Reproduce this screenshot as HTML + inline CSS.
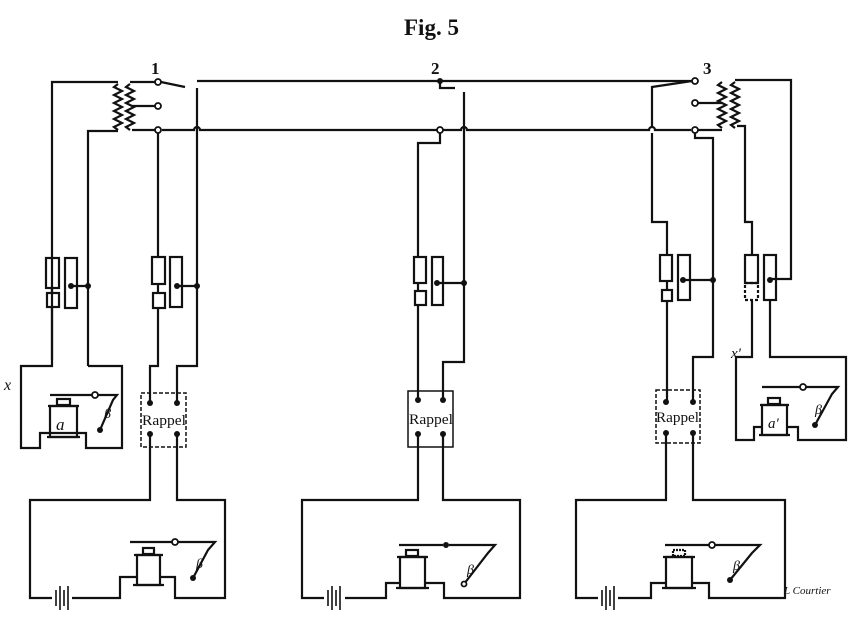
<!DOCTYPE html>
<html><head><meta charset="utf-8"><style>
html,body{margin:0;padding:0;background:#fff;}
svg{display:block}
text{font-family:"Liberation Serif",serif;fill:#111}
</style></head><body>
<svg width="855" height="620" viewBox="0 0 855 620" xmlns="http://www.w3.org/2000/svg">
<text x="404" y="35" font-size="23" font-weight="bold">Fig. 5</text>
<text x="151" y="74" font-size="17" font-weight="bold">1</text>
<text x="431" y="74" font-size="17" font-weight="bold">2</text>
<text x="703" y="74" font-size="17" font-weight="bold">3</text>
<text x="4" y="390" font-size="16" font-style="italic">x</text>
<text x="731" y="358" font-size="15" font-style="italic">x'</text>
<text x="784" y="594" font-size="11" font-style="italic">L Courtier</text>

<g fill="none" stroke="#111" stroke-width="2.2">
<path d="M197 81 H691"/>
<path d="M162 130 H194 a3 3 0 0 1 6 0 H461 a3 3 0 0 1 6 0 H649 a3 3 0 0 1 6 0 H691"/>

<!-- Station 1 top -->
<path d="M52 360 V82 H118"/>
<path d="M88 366 V131 H118"/>
<path d="M118 84 l-4 3 l8 4 l-8 4 l8 4 l-8 4 l8 4 l-8 4 l8 4 l-8 4 l8 4 l-8 4 l4 3"/>
<path d="M130 84 l-4 3 l8 4 l-8 4 l8 4 l-8 4 l8 4 l-8 4 l8 4 l-8 4 l8 4 l-8 4 l4 3"/>
<path d="M130 82 H155 M161 82 L185 87"/>
<path d="M132 106 H155"/>
<path d="M132 130 H155"/>
<path d="M158 133 V258"/>
<path d="M197 88 V366 H177 V403"/>
<rect x="46" y="258" width="13" height="30"/><rect x="47" y="293" width="12" height="14"/>
<path d="M52 288 V293 M52 307 V360"/>
<rect x="65" y="258" width="12" height="50"/>
<path d="M71 286 H88"/>
<rect x="152" y="257" width="13" height="27"/><rect x="153" y="293" width="12" height="15"/>
<path d="M158 284 V293 M158 308 V366 H150 V403"/>
<rect x="170" y="257" width="12" height="50"/>
<path d="M177 286 H197"/>
<path d="M52 360 V366 H21 V448 H40 V433 H86 V448 H122 V366 H88"/>
<rect x="50" y="406" width="27" height="31"/>
<path d="M47 437 H80 M48 406 H79"/>
<rect x="57" y="399" width="13" height="6"/>
<path d="M50 395 H92 M98 395 H117 L113 400 L100 430"/>
<rect x="141" y="393" width="45" height="54" stroke-dasharray="4 2" stroke-width="1.5"/>
<path d="M150 434 V500 H30 V598 H52 M72 598 H120 V577 H137 M160 577 H175 V598 H225 V500 H177 V434"/>
<path d="M56 590 V606 M60 586 V610 M64 590 V606 M68 586 V610" stroke-width="1.6"/>
<rect x="137" y="555" width="23" height="30"/>
<path d="M133 585 H164 M134 555 H163"/>
<rect x="143" y="548" width="11" height="6"/>
<path d="M130 542 H172 M178 542 H215 L208 550 L193 578"/>

<!-- Station 2 -->
<path d="M440 81 V88 H455 M464 92 V362 H443 V400"/>
<path d="M440 133 V143 H418 V257"/>
<rect x="414" y="257" width="12" height="26"/><rect x="415" y="291" width="11" height="14"/>
<path d="M418 283 V291 M418 305 V400"/>
<rect x="432" y="257" width="11" height="48"/>
<path d="M437 283 H464"/>
<rect x="408" y="391" width="45" height="56" stroke-width="1.5"/>
<path d="M418 434 V500 H302 V598 H324 M345 598 H386 V583 H400 M425 583 H444 V598 H520 V500 H443 V434"/>
<path d="M328 590 V606 M332 586 V610 M336 590 V606 M340 586 V610" stroke-width="1.6"/>
<rect x="400" y="557" width="25" height="31"/>
<path d="M396 588 H429 M397 557 H428"/>
<rect x="406" y="550" width="12" height="6"/>
<path d="M399 545 H443 M449 545 H495 L488 553 L464 584"/>

<!-- Station 3 -->
<path d="M692 81 L652 87 V127 M652 133 V222 H667 V255"/>
<path d="M698 103 H722"/>
<path d="M698 130 H722"/>
<path d="M695 133 V138 H713 V357 H693 V402"/>
<path d="M722 82 l-4 3 l8 4 l-8 4 l8 4 l-8 4 l8 4 l-8 4 l8 4 l-8 4 l8 4 l-8 4 l4 3"/>
<path d="M735 82 l-4 3 l8 4 l-8 4 l8 4 l-8 4 l8 4 l-8 4 l8 4 l-8 4 l8 4 l-8 4 l4 3"/>
<path d="M735 80 H791 V279 H770"/>
<path d="M737 126 H745 V222 H752 V255"/>
<rect x="660" y="255" width="12" height="26"/><rect x="662" y="290" width="10" height="11"/>
<path d="M667 281 V290 M667 301 V402"/>
<rect x="678" y="255" width="12" height="45"/>
<path d="M683 280 H713"/>
<rect x="745" y="255" width="13" height="28"/>
<rect x="745" y="283" width="13" height="17" stroke-dasharray="3 2"/>
<rect x="764" y="255" width="12" height="45"/>
<path d="M752 300 V357 H736 V440 H754 V427 H762 M787 427 H798 V440 H846 V357 H770 V300"/>
<rect x="762" y="405" width="25" height="30"/>
<path d="M759 435 H790 M760 405 H789"/>
<rect x="768" y="398" width="12" height="6"/>
<path d="M762 387 H800 M806 387 H838 L832 394 L815 425"/>
<rect x="656" y="390" width="44" height="53" stroke-dasharray="4 2" stroke-width="1.5"/>
<path d="M666 433 V500 H576 V598 H598 M618 598 H651 V583 H666 M692 583 H709 V598 H785 V500 H693 V433"/>
<path d="M602 590 V606 M606 586 V610 M610 590 V606 M614 586 V610" stroke-width="1.6"/>
<rect x="666" y="557" width="26" height="31"/>
<path d="M662 588 H696 M663 557 H695"/>
<rect x="673" y="550" width="12" height="6" stroke-dasharray="2 1"/>
<path d="M665 545 H709 M715 545 H760 L752 553 L730 580"/>
</g>

<g fill="#fff" stroke="#111" stroke-width="1.8">
<circle cx="158" cy="82" r="3"/><circle cx="158" cy="106" r="3"/><circle cx="158" cy="130" r="3"/>
<circle cx="440" cy="130" r="3"/>
<circle cx="695" cy="81" r="3"/><circle cx="695" cy="103" r="3"/><circle cx="695" cy="130" r="3"/>
<circle cx="95" cy="395" r="3"/><circle cx="175" cy="542" r="3"/><circle cx="712" cy="545" r="3"/>
<circle cx="803" cy="387" r="3"/><circle cx="464" cy="584" r="2.5"/>
</g>
<g fill="#111">
<circle cx="440" cy="81" r="3"/>
<circle cx="71" cy="286" r="3"/><circle cx="88" cy="286" r="3"/>
<circle cx="177" cy="286" r="3"/><circle cx="197" cy="286" r="3"/>
<circle cx="437" cy="283" r="3"/><circle cx="464" cy="283" r="3"/>
<circle cx="683" cy="280" r="3"/><circle cx="713" cy="280" r="3"/><circle cx="770" cy="280" r="3"/>
<circle cx="150" cy="403" r="3"/><circle cx="177" cy="403" r="3"/><circle cx="150" cy="434" r="3"/><circle cx="177" cy="434" r="3"/>
<circle cx="418" cy="400" r="3"/><circle cx="443" cy="400" r="3"/><circle cx="418" cy="434" r="3"/><circle cx="443" cy="434" r="3"/>
<circle cx="666" cy="402" r="3"/><circle cx="693" cy="402" r="3"/><circle cx="666" cy="433" r="3"/><circle cx="693" cy="433" r="3"/>
<circle cx="100" cy="430" r="3"/><circle cx="193" cy="578" r="3"/><circle cx="730" cy="580" r="3"/><circle cx="815" cy="425" r="3"/>
<circle cx="446" cy="545" r="3"/>
</g>
<g fill="#111">
<text x="142" y="425" font-size="14.5" textLength="44" lengthAdjust="spacingAndGlyphs">Rappel</text>
<text x="409" y="424" font-size="14.5" textLength="44" lengthAdjust="spacingAndGlyphs">Rappel</text>
<text x="656" y="422" font-size="14.5" textLength="43" lengthAdjust="spacingAndGlyphs">Rappel</text>
<text x="56" y="430" font-size="17" font-style="italic">a</text>
<text x="768" y="428" font-size="15" font-style="italic">a'</text>
<text x="104" y="418" font-size="14" font-style="italic">β</text>
<text x="196" y="568" font-size="14" font-style="italic">β</text>
<text x="467" y="574" font-size="14" font-style="italic">β</text>
<text x="733" y="570" font-size="14" font-style="italic">β</text>
<text x="815" y="414" font-size="14" font-style="italic">β</text>
</g>
</svg>
</body></html>
